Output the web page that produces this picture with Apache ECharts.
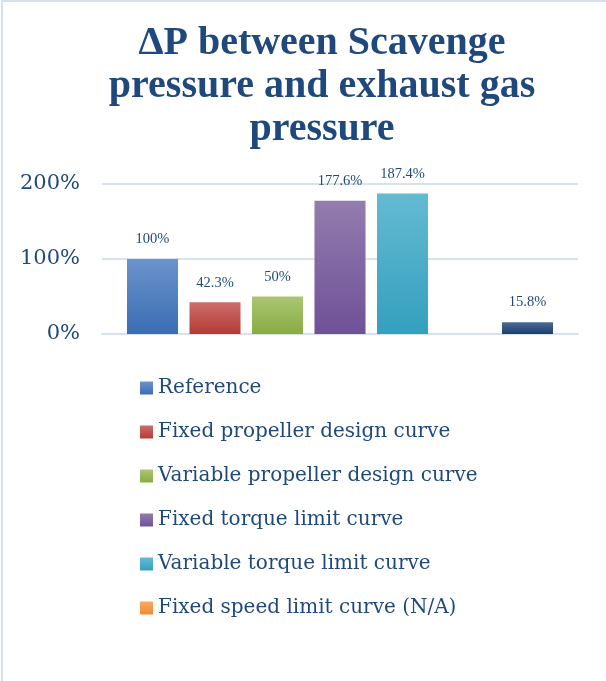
<!DOCTYPE html>
<html>
<head>
<meta charset="utf-8">
<script src="https://cdn.jsdelivr.net/npm/echarts@6/dist/echarts.min.js"></script>
<style>
  html, body { margin: 0; padding: 0; background: #ffffff; }
  #chart { width: 606px; height: 681px; }
</style>
</head>
<body>
<div id="chart"></div>
<script>
// Chart data
const titleText = '\u0394P between Scavenge\npressure and exhaust gas\npressure';
const categories = [''];
const seriesNames = [
  'Reference',
  'Fixed propeller design curve',
  'Variable propeller design curve',
  'Fixed torque limit curve',
  'Variable torque limit curve',
  'Fixed speed limit curve (N/A)',
  'Series 7'
];
const legendNames = seriesNames.slice(0, 6);
const seriesValues = [100, 42.3, 50, 177.6, 187.4, null, 15.8];
const valueLabels = ['100%', '42.3%', '50%', '177.6%', '187.4%', '', '15.8%'];
const yTicks = [0, 100, 200];

// Gradient fills for each series: [top, bottom]
const fills = [
  ['#6c93cb', '#3a6db4'],
  ['#cd6d6a', '#b53a35'],
  ['#abc672', '#88ab42'],
  ['#937cae', '#6f5198'],
  ['#65bad2', '#33a0be'],
  ['#f9a865', '#f48a2e'],
  ['#4b6b98', '#1f3e6a']
];

const textColor = '#1f497d';
const serif = '"Liberation Serif", "DejaVu Serif", serif';
const wideSerif = '"DejaVu Serif", "Liberation Serif", serif';
const gridColor = '#d7e2f0';

const chart = echarts.init(document.getElementById('chart'), null, { renderer: 'canvas' });

function grad(c) {
  return new echarts.graphic.LinearGradient(0, 0, 0, 1, [
    { offset: 0, color: c[0] },
    { offset: 1, color: c[1] }
  ]);
}

const series = seriesNames.map((name, i) => ({
  name: name,
  type: 'bar',
  data: [seriesValues[i]],
  barGap: '22.5%',
  barCategoryGap: '10.5%',
  itemStyle: { color: grad(fills[i]) },
  label: {
    show: seriesValues[i] !== null,
    position: 'top',
    distance: 12,
    formatter: () => valueLabels[i],
    color: textColor,
    fontFamily: serif,
    fontSize: 14.5
  }
}));

chart.setOption({
  animation: false,
  backgroundColor: '#ffffff',
  title: {
    text: titleText,
    left: 322,
    top: 22,
    padding: 0,
    textAlign: 'center',
    textStyle: {
      color: textColor,
      fontFamily: serif,
      fontWeight: 'bold',
      fontSize: 40,
      lineHeight: 43
    }
  },
  legend: {
    data: legendNames,
    orient: 'vertical',
    left: 140,
    top: 378,
    padding: 0,
    itemWidth: 13,
    itemHeight: 13,
    itemGap: 24,
    icon: 'rect',
    textStyle: {
      color: textColor,
      fontFamily: wideSerif,
      fontSize: 20
    }
  },
  grid: {
    left: 102,
    right: 28,
    top: 184,
    bottom: 347,
    containLabel: false
  },
  xAxis: {
    type: 'category',
    data: categories,
    axisLine: { show: true, lineStyle: { color: gridColor, width: 2 } },
    axisTick: { show: false },
    axisLabel: { show: false }
  },
  yAxis: {
    type: 'value',
    min: yTicks[0],
    max: yTicks[yTicks.length - 1],
    interval: yTicks[1] - yTicks[0],
    axisLine: { show: false },
    axisTick: { show: false },
    axisLabel: {
      formatter: '{value}%',
      color: textColor,
      fontFamily: wideSerif,
      fontSize: 21,
      margin: 22,
      padding: [6, 0, 0, 0]
    },
    splitLine: { lineStyle: { color: gridColor, width: 2 } }
  },
  graphic: [{
    type: 'rect',
    shape: { x: 2, y: 1, width: 700, height: 800 },
    style: { fill: 'none', stroke: '#d5e0ef', lineWidth: 2 },
    silent: true,
    z: 100
  }],
  series: series
});
</script>
</body>
</html>
